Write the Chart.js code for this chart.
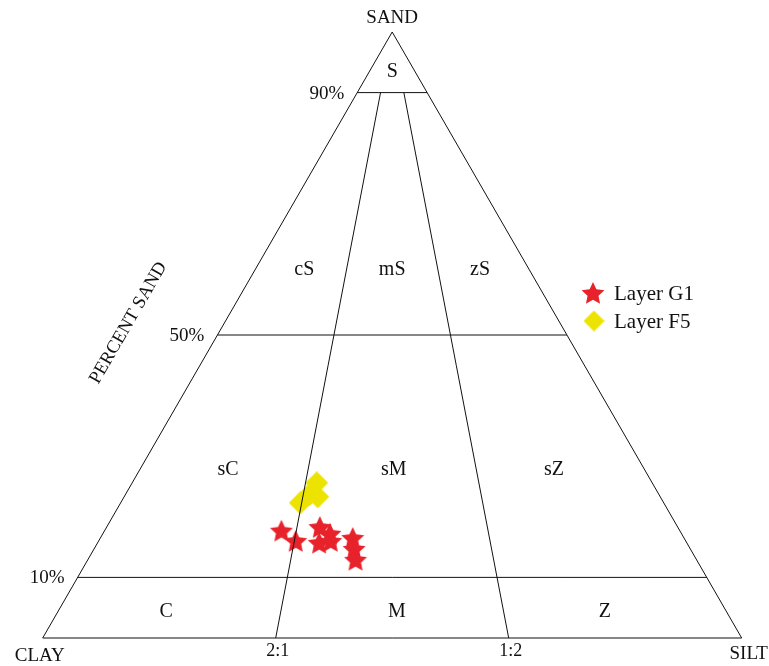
<!DOCTYPE html>
<html>
<head>
<meta charset="utf-8">
<title>Sand - Silt - Clay ternary diagram</title>
<script src="https://cdn.jsdelivr.net/npm/chart.js@4.4.1/dist/chart.umd.min.js"></script>
<style>
    html, body { margin: 0; padding: 0; background: #fff; }
    #wrap { width: 769px; height: 666px; }
</style>
</head>
<body>
<div id="wrap"><canvas id="ternary" width="769" height="666"></canvas></div>
<script>
// Sample composition in percent (sand, silt, clay)
const g1Sand = [17.7, 16.0, 18.3, 15.7, 17.2, 16.0, 16.5, 14.7, 12.9];
const g1Silt = [25.3, 28.2, 30.5, 31.7, 32.5, 33.2, 36.1, 37.2, 38.3];
const g1Clay = [57.0, 55.8, 51.2, 52.6, 50.3, 50.8, 47.4, 48.1, 48.8];

const f5Sand = [25.6, 23.3, 23.6, 22.3];
const f5Silt = [26.4, 27.7, 26.3, 25.7];
const f5Clay = [48.0, 49.0, 50.1, 52.0];

const seriesNames = ['Layer G1', 'Layer F5'];

// Folk classification boundaries
const sandLevels = [10, 50, 90];
const sandLevelLabels = ['10%', '50%', '90%'];
const mudRatios = [1 / 3, 2 / 3];          // silt share of mud (clay:silt 2:1 and 1:2)
const mudRatioLabels = ['2:1', '1:2'];
const cornerLabels = ['CLAY', 'SILT', 'SAND'];
const axisTitle = 'PERCENT SAND';

const FONT = "'Liberation Serif', 'Times New Roman', serif";

// Ternary -> cartesian (clay corner at x=0, silt corner at x=1, sand apex at y=1)
function toXY(sand, silt, clay) {
    const total = sand + silt + clay;
    const s = sand / total;
    return { x: silt / total + s / 2, y: s };
}

// point at a given sand fraction on the line from a base ratio towards the apex
function onRatio(sandFrac, ratio) {
    return { x: ratio * (1 - sandFrac) + sandFrac / 2, y: sandFrac };
}

function buildPoints(sand, silt, clay) {
    return sand.map((s, i) => toXY(s, silt[i], clay[i]));
}

// Filled marker images used as point styles
function makeStar(size, color) {
    const c = document.createElement('canvas');
    c.width = size;
    c.height = size;
    const g = c.getContext('2d');
    const r = size / 2, inner = r * 0.48;
    g.beginPath();
    for (let i = 0; i < 10; i++) {
        const rad = (i % 2 === 0) ? r : inner;
        const a = -Math.PI / 2 + i * Math.PI / 5;
        const px = r + rad * Math.cos(a), py = r + 1 + rad * Math.sin(a);
        if (i === 0) g.moveTo(px, py); else g.lineTo(px, py);
    }
    g.closePath();
    g.fillStyle = color;
    g.fill();
    return c;
}

function makeDiamond(size, color) {
    const c = document.createElement('canvas');
    c.width = size;
    c.height = size;
    const g = c.getContext('2d');
    const r = size / 2;
    g.beginPath();
    g.moveTo(r, 0);
    g.lineTo(size, r);
    g.lineTo(r, size);
    g.lineTo(0, r);
    g.closePath();
    g.fillStyle = color;
    g.fill();
    return c;
}

const RED = '#e8222b';
const YELLOW = '#ede300';
const starImg = makeStar(24, RED);
const diamondImg = makeDiamond(23, YELLOW);
const legendDiamond = makeDiamond(21, YELLOW);

// Frame and boundary lines
const lineStyle = {
    showLine: true,
    borderColor: '#111',
    borderWidth: 1,
    pointRadius: 0,
    pointHoverRadius: 0,
    fill: false,
    clip: false,
    order: 0
};

const frameLines = [
    [{ x: 0, y: 0 }, { x: 1, y: 0 }, { x: 0.5, y: 1 }, { x: 0, y: 0 }]
];
sandLevels.forEach(p => {
    const s = p / 100;
    frameLines.push([onRatio(s, 0), onRatio(s, 1)]);
});
mudRatios.forEach(r => {
    frameLines.push([onRatio(0, r), onRatio(sandLevels[2] / 100, r)]);
});

const datasets = frameLines.map(pts => Object.assign({ data: pts }, lineStyle));

datasets.push({
    label: seriesNames[0],
    data: buildPoints(g1Sand, g1Silt, g1Clay),
    pointStyle: starImg,
    pointRadius: 12,
    showLine: false,
    clip: false,
    order: 1
});
datasets.push({
    label: seriesNames[1],
    data: buildPoints(f5Sand, f5Silt, f5Clay),
    pointStyle: diamondImg,
    pointRadius: 12,
    showLine: false,
    clip: false,
    order: 1
});

// Zone names placed by (sand %, silt share of mud)
const zoneLabels = [
    { text: 'S', sand: 93.5, ratio: 0.5 },
    { text: 'cS', sand: 60.7, ratio: 0.18 },
    { text: 'mS', sand: 60.7, ratio: 0.5 },
    { text: 'zS', sand: 60.7, ratio: 0.82 },
    { text: 'sC', sand: 27.7, ratio: 0.175 },
    { text: 'sM', sand: 27.7, ratio: 0.503 },
    { text: 'sZ', sand: 27.7, ratio: 0.82 },
    { text: 'C', sand: 4.3, ratio: 0.162 },
    { text: 'M', sand: 4.3, ratio: 0.507 },
    { text: 'Z', sand: 4.3, ratio: 0.818 }
];

const labelPlugin = {
    id: 'ternaryLabels',
    afterDatasetsDraw(chart) {
        const { ctx, scales: { x, y } } = chart;
        const toPx = p => ({ x: x.getPixelForValue(p.x), y: y.getPixelForValue(p.y) });

        ctx.save();
        ctx.fillStyle = '#111';
        ctx.textBaseline = 'middle';
        ctx.textAlign = 'center';

        // zone names
        ctx.font = '20px ' + FONT;
        zoneLabels.forEach(z => {
            const p = toPx(onRatio(z.sand / 100, z.ratio));
            ctx.fillText(z.text, p.x, p.y);
        });

        // corners
        ctx.font = '19px ' + FONT;
        const clay = toPx({ x: 0, y: 0 }), silt = toPx({ x: 1, y: 0 }), apex = toPx({ x: 0.5, y: 1 });
        ctx.fillText(cornerLabels[0], clay.x - 3, clay.y + 18);
        ctx.fillText(cornerLabels[1], silt.x + 7, silt.y + 16);
        ctx.fillText(cornerLabels[2], apex.x, apex.y - 14);

        // clay:silt ratios under the base
        ctx.font = '18px ' + FONT;
        mudRatios.forEach((r, i) => {
            const p = toPx(onRatio(0, r));
            ctx.fillText(mudRatioLabels[i], p.x + 2, p.y + 13);
        });

        // sand levels on the left edge
        ctx.font = '19px ' + FONT;
        ctx.textAlign = 'right';
        sandLevels.forEach((lv, i) => {
            const p = toPx(onRatio(lv / 100, 0));
            ctx.fillText(sandLevelLabels[i], p.x - 13, p.y + 1);
        });

        // axis title, parallel to left edge
        const mid = toPx(onRatio(0.52, 0));
        ctx.translate(mid.x - 96, mid.y);
        ctx.rotate(-Math.atan2(apex.y - clay.y, clay.x - apex.x) + Math.PI);
        ctx.textAlign = 'center';
        ctx.font = '18.5px ' + FONT;
        ctx.fillText(axisTitle, 0, 0);
        ctx.setTransform(1, 0, 0, 1, 0, 0);

        // legend
        const lx = 593, ly = 293, gap = 28;
        ctx.drawImage(starImg, lx - 12, ly - 12);
        ctx.drawImage(legendDiamond, lx - 9.5, ly + gap - 10.5);
        ctx.textAlign = 'left';
        ctx.font = '21px ' + FONT;
        ctx.fillText(seriesNames[0], lx + 21, ly + 1);
        ctx.fillText(seriesNames[1], lx + 21, ly + gap + 1);

        ctx.restore();
    }
};

new Chart(document.getElementById('ternary').getContext('2d'), {
    type: 'scatter',
    data: { datasets: datasets },
    options: {
        responsive: false,
        animation: false,
        layout: { padding: { left: 42.7, right: 27.3, top: 32, bottom: 28 } },
        scales: {
            x: { type: 'linear', min: 0, max: 1, display: false },
            y: { type: 'linear', min: 0, max: 1, display: false }
        },
        plugins: {
            legend: { display: false },
            tooltip: { enabled: false }
        }
    },
    plugins: [labelPlugin]
});
</script>
</body>
</html>
